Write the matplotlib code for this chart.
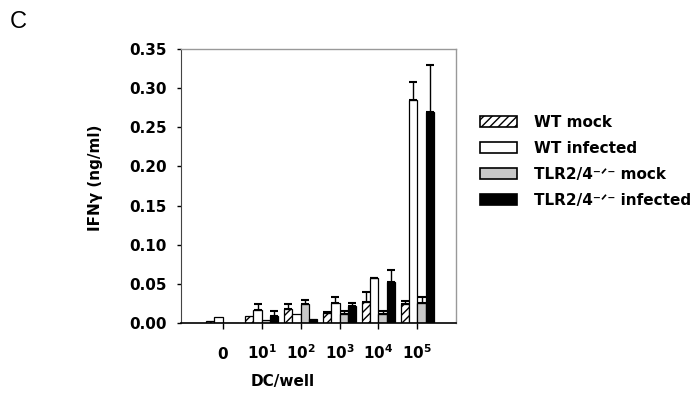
import matplotlib
matplotlib.use("Agg")
import matplotlib.pyplot as plt
from matplotlib.patches import Patch
import numpy as np

plt.rcParams['font.family'] = ['DejaVu Sans']
plt.rcParams['mathtext.fontset'] = 'dejavusans'
plt.rcParams['hatch.linewidth'] = 1.0

# data (IFN-gamma, ng/ml)
groups = ["0", "10^1", "10^2", "10^3", "10^4", "10^5"]
tick_labels = [r"$\mathbf{0}$", r"$\mathbf{10^1}$", r"$\mathbf{10^2}$",
               r"$\mathbf{10^3}$", r"$\mathbf{10^4}$", r"$\mathbf{10^5}$"]
series = ["WT mock", "WT infected", "TLR2/4\u207b\u141f\u207b mock",
          "TLR2/4\u207b\u141f\u207b infected"]
wt_mock = [0.0025, 0.009, 0.018, 0.0125, 0.027, 0.024]
wt_mock_err = [0.0, 0.0, 0.006, 0.0015, 0.012, 0.0035]
wt_inf = [0.008, 0.0165, 0.012, 0.026, 0.057, 0.285]
wt_inf_err = [0.0, 0.0075, 0.0, 0.007, 0.001, 0.023]
ko_mock = [0.0, 0.0035, 0.024, 0.0115, 0.0115, 0.025]
ko_mock_err = [0.0, 0.0, 0.005, 0.0035, 0.0035, 0.008]
ko_inf = [0.0, 0.009, 0.0055, 0.022, 0.052, 0.270]
ko_inf_err = [0.0, 0.006, 0.0, 0.004, 0.0155, 0.060]

values = [wt_mock, wt_inf, ko_mock, ko_inf]
errors = [wt_mock_err, wt_inf_err, ko_mock_err, ko_inf_err]
colors = ["white", "white", "#c8c8c8", "black"]
hatches = ["////", None, None, None]

W, H = 692, 404
fig = plt.figure(figsize=(W / 100, H / 100), dpi=100)
ax = fig.add_axes([181 / W, 1 - 323 / H, (456 - 181) / W, (323 - 49) / H])

x = np.arange(len(groups))
bw = 0.212
for i, (vals, errs) in enumerate(zip(values, errors)):
    pos = x + (i - 1.5) * bw
    ax.bar(pos, vals, bw, color=colors[i], edgecolor="black", linewidth=0.9,
           hatch=hatches[i], zorder=2)
    errs = np.array(errs)
    m = errs > 0
    ax.errorbar(pos[m], np.array(vals)[m], yerr=[np.zeros(m.sum()), errs[m]],
                fmt="none", ecolor="black", elinewidth=1.0, capsize=3,
                capthick=1.5, zorder=3)

ax.set_xlim(-1.07, 5.99)
ax.set_ylim(0, 0.35)
ax.set_yticks(np.arange(0, 0.351, 0.05))
ax.set_yticklabels([f"{v:.2f}" for v in np.arange(0, 0.351, 0.05)],
                   fontsize=11, fontweight="bold")
ax.set_xticks(x)
ax.set_xticklabels(tick_labels, fontsize=11)
for lab in ax.get_xticklabels():
    lab.set_verticalalignment("baseline")
ax.tick_params(axis="x", direction="out", length=4, width=1, pad=22)
ax.tick_params(axis="y", direction="out", length=3, width=1, pad=7)

for s in ["top", "right"]:
    ax.spines[s].set_color("#999999")
    ax.spines[s].set_linewidth(1.0)
ax.spines["left"].set_color("#444444")
ax.spines["bottom"].set_color("black")
ax.spines["bottom"].set_linewidth(1.2)

ax.set_ylabel("IFNγ (ng/ml)", fontsize=11, fontweight="bold", va="center")
ax.yaxis.set_label_coords(-0.31, 0.53)
ax.set_xlabel("DC/well", fontsize=11, fontweight="bold", va="center")
ax.xaxis.set_label_coords(0.371, -0.212)

handles = [Patch(facecolor=colors[i], edgecolor="black", linewidth=1.2,
                 hatch=hatches[i]) for i in range(4)]
leg = fig.legend(handles, series, loc="upper left",
                 bbox_to_anchor=(480 / W, 1 - 115 / H), frameon=False,
                 borderpad=0, borderaxespad=0, handlelength=2.4,
                 handleheight=0.75, handletextpad=1.15, labelspacing=0.72,
                 prop={"size": 11, "weight": "bold"})

fig.text(10 / W, 1 - 22 / H, "C", fontsize=17, va="center", ha="left",
         family="Liberation Sans")

fig.savefig("out.png", dpi=100)
